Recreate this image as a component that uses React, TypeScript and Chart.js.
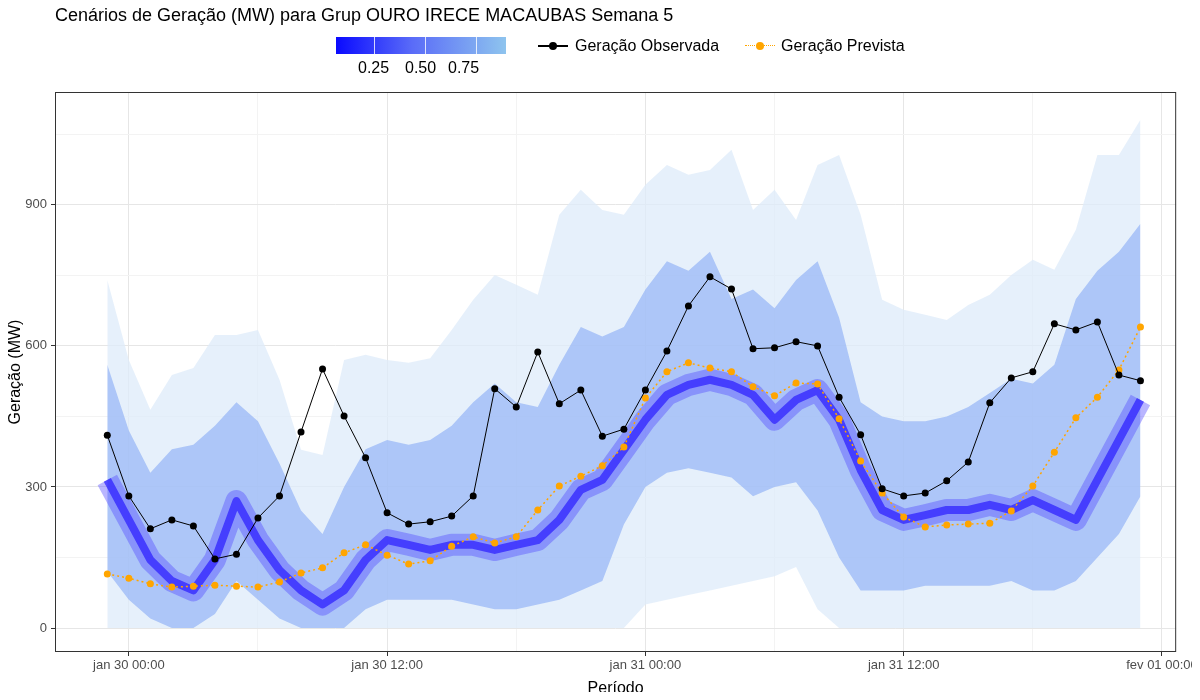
import { Chart, registerables } from "chart.js";
import { useEffect, useRef } from "react";

Chart.register(...registerables);

// hours relative to jan 30 00:00
const hours = Array.from({ length: 49 }, (_, i) => i - 1);

const observed = [
  410, 281, 211, 230, 217, 147, 157, 234, 281, 417, 551, 451, 362, 245, 221, 226, 238, 281, 509, 470,
  587, 477, 506, 408, 423, 506, 589, 685, 747, 721, 594, 596, 609, 600, 491, 411, 296, 281, 287, 313,
  353, 479, 532, 545, 647, 634, 651, 538, 526,
];

const forecast = [
  115, 106, 94, 87, 89, 91, 89, 87, 98, 117, 128, 160, 177, 155, 136, 143, 174, 194, 181, 194,
  251, 302, 323, 345, 385, 489, 545, 564, 553, 545, 513, 494, 521, 519, 445, 355, 287, 236, 215, 219,
  221, 223, 249, 302, 374, 447, 491, 549, 640,
];

const fanUpper = [
  740, 570, 464, 538, 553, 623, 623, 634, 528, 379, 368, 570, 581, 570, 564, 574, 634, 698, 751, 730,
  709, 879, 932, 889, 879, 943, 985, 964, 974, 1017, 889, 932, 868, 985, 1006, 879, 698, 677, 666, 655,
  687, 709, 751, 783, 762, 847, 1006, 1006, 1081,
];

const fanLower = [
  0, 0, 0, 0, 0, 0, 0, 0, 0, 0, 0, 0, 0, 0, 0, 0, 0, 0, 0, 0,
  0, 0, 0, 0, 0, 50, 60, 70, 80, 90, 100, 110, 130, 40, 0, 0, 0, 0, 0, 0,
  0, 0, 0, 0, 0, 0, 0, 0, 0,
];

const midUpper = [
  560, 420, 330, 380, 390, 430, 480, 440, 350, 250, 200, 300, 380, 400, 390, 400, 430, 480, 520, 480,
  470, 560, 640, 620, 640, 720, 780, 760, 800, 700, 720, 680, 740, 780, 660, 480, 450, 440, 440, 450,
  470, 500, 530, 520, 560, 700, 760, 800, 860,
];

const midLower = [
  120, 60, 20, 0, 0, 30, 100, 60, 20, 0, 0, 0, 40, 60, 60, 60, 60, 50, 40, 40,
  50, 60, 80, 100, 220, 300, 330, 340, 330, 320, 280, 300, 310, 250, 150, 80, 80, 80, 90, 90,
  90, 90, 100, 80, 80, 100, 150, 200, 280,
];

const core = [
  315, 230, 145, 100, 80, 145, 270, 187, 123, 80, 50, 80, 145, 187, 177, 166, 177, 177, 166, 177,
  187, 230, 294, 315, 379, 443, 496, 517, 528, 517, 496, 443, 485, 506, 443, 336, 251, 230, 240, 251,
  251, 262, 251, 272, 251, 230, 315, 400, 485,
];

const xTickLabels: Record<number, string> = {
  0: "jan 30 00:00",
  12: "jan 30 12:00",
  24: "jan 31 00:00",
  36: "jan 31 12:00",
  48: "fev 01 00:00",
};

const FONT = "'Liberation Sans', Arial, sans-serif";

const pts = (arr: number[]) => arr.map((y, i) => ({ x: hours[i], y }));

const frame = {
  id: "frame",
  afterDraw(chart: Chart) {
    const { ctx, chartArea: a } = chart;
    ctx.save();
    ctx.strokeStyle = "#333";
    ctx.lineWidth = 1;
    ctx.strokeRect(a.left + 0.5, a.top + 0.5, a.width - 1, a.height - 1);
    ctx.restore();
  },
};

function FanChart(): JSX.Element {
  const ref = useRef<HTMLCanvasElement | null>(null);

  useEffect(() => {
    if (!ref.current) return;
    const band = { borderWidth: 0, pointRadius: 0, tension: 0 };
    const chart = new Chart(ref.current, {
      type: "line",
      data: {
        datasets: [
          { ...band, data: pts(fanUpper), fill: 1, backgroundColor: "rgba(222,235,250,0.75)", order: 7 },
          { ...band, data: pts(fanLower), fill: false, order: 8 },
          { ...band, data: pts(midUpper), fill: 3, backgroundColor: "rgba(135,170,245,0.6)", order: 5 },
          { ...band, data: pts(midLower), fill: false, order: 6 },
          { data: pts(core), borderColor: "rgba(80,70,255,0.4)", borderWidth: 22, pointRadius: 0, fill: false, order: 4, borderJoinStyle: "round", borderCapStyle: "butt" },
          { data: pts(core), borderColor: "rgba(40,25,255,0.7)", borderWidth: 8, pointRadius: 0, fill: false, order: 3, borderJoinStyle: "round", borderCapStyle: "butt" },
          {
            data: pts(forecast), borderColor: "#FFA500", backgroundColor: "#FFA500", borderWidth: 1.5,
            borderDash: [2, 3], pointRadius: 3.5, pointBorderWidth: 0, fill: false, order: 1,
          },
          {
            data: pts(observed), borderColor: "#000", backgroundColor: "#000", borderWidth: 1,
            pointRadius: 3.5, pointBorderWidth: 0, fill: false, order: 0,
          },
        ],
      },
      options: {
        animation: false,
        responsive: true,
        maintainAspectRatio: false,
        layout: { padding: { top: 92, right: 20, left: 6, bottom: 2 } },
        plugins: { legend: { display: false }, tooltip: { enabled: false } },
        scales: {
          x: {
            type: "linear",
            min: -3.43,
            max: 48.66,
            afterFit: (s: any) => { s.height = 46; },
            afterBuildTicks: (s: any) => { s.ticks = [0, 6, 12, 18, 24, 30, 36, 42, 48].map((v) => ({ value: v })); },
            ticks: {
              autoSkip: false, maxRotation: 0, color: "#4d4d4d", padding: 2,
              font: { family: FONT, size: 13 },
              callback: (v: any) => xTickLabels[v] ?? "",
            },
            grid: {
              color: (c: any) => (c.tick && c.tick.value % 12 === 0 ? "#e6e6e6" : "#f3f3f3"),
              tickColor: (c: any) => (c.tick && c.tick.value % 12 === 0 ? "#333" : "transparent"),
              tickLength: 4,
            },
            border: { display: false },
            title: { display: true, text: "Período", color: "#000", font: { family: FONT, size: 16 }, padding: 0 },
          },
          y: {
            min: -51,
            max: 1140,
            afterFit: (s: any) => { s.width = 49; },
            afterBuildTicks: (s: any) => { s.ticks = [0, 150, 300, 450, 600, 750, 900, 1050].map((v) => ({ value: v })); },
            ticks: {
              color: "#4d4d4d", padding: 4, font: { family: FONT, size: 13 },
              callback: (v: any) => (v % 300 === 0 ? String(v) : ""),
            },
            grid: {
              color: (c: any) => (c.tick && c.tick.value % 300 === 0 ? "#e6e6e6" : "#f3f3f3"),
              tickColor: (c: any) => (c.tick && c.tick.value % 300 === 0 ? "#333" : "transparent"),
              tickLength: 4,
            },
            border: { display: false },
            title: { display: true, text: "Geração (MW)", color: "#000", font: { family: FONT, size: 16 }, padding: 0 },
          },
        },
      },
      plugins: [frame],
    });
    return () => chart.destroy();
  }, []);

  return <canvas ref={ref}></canvas>;
}

export default function App(): JSX.Element {
  const text = { position: "absolute" as const, fontFamily: FONT, color: "#000", whiteSpace: "nowrap" as const };
  return (
    <div style={{ position: "relative", width: 1200, height: 700, margin: -8, background: "#fff" }}>
      <FanChart />
      <div style={{ ...text, left: 55, top: 5, fontSize: 18 }}>
        Cenários de Geração (MW) para Grup OURO IRECE MACAUBAS Semana 5
      </div>
      <div
        style={{
          position: "absolute", left: 336, top: 37, width: 170, height: 17,
          background: "linear-gradient(to right, #0a0aff, #5a6cf8 45%, #8ec4ee)",
        }}
      >
        {[0.25, 0.5, 0.75].map((v, i) => (
          <div key={i} style={{ position: "absolute", left: 38 + i * 51, top: 0, width: 1, height: 17, background: "rgba(255,255,255,0.8)" }} />
        ))}
      </div>
      <div style={{ ...text, left: 358, top: 59, fontSize: 16 }}>0.25</div>
      <div style={{ ...text, left: 405, top: 59, fontSize: 16 }}>0.50</div>
      <div style={{ ...text, left: 448, top: 59, fontSize: 16 }}>0.75</div>
      <div style={{ position: "absolute", left: 538, top: 45, width: 30, height: 1.5, background: "#000" }} />
      <div style={{ position: "absolute", left: 549, top: 42, width: 8, height: 8, borderRadius: 4, background: "#000" }} />
      <div style={{ ...text, left: 575, top: 37, fontSize: 16 }}>Geração Observada</div>
      <div style={{ position: "absolute", left: 745, top: 45, width: 30, height: 0, borderTop: "1.5px dotted #FFA500" }} />
      <div style={{ position: "absolute", left: 756, top: 42, width: 8, height: 8, borderRadius: 4, background: "#FFA500" }} />
      <div style={{ ...text, left: 781, top: 37, fontSize: 16 }}>Geração Prevista</div>
    </div>
  );
}
